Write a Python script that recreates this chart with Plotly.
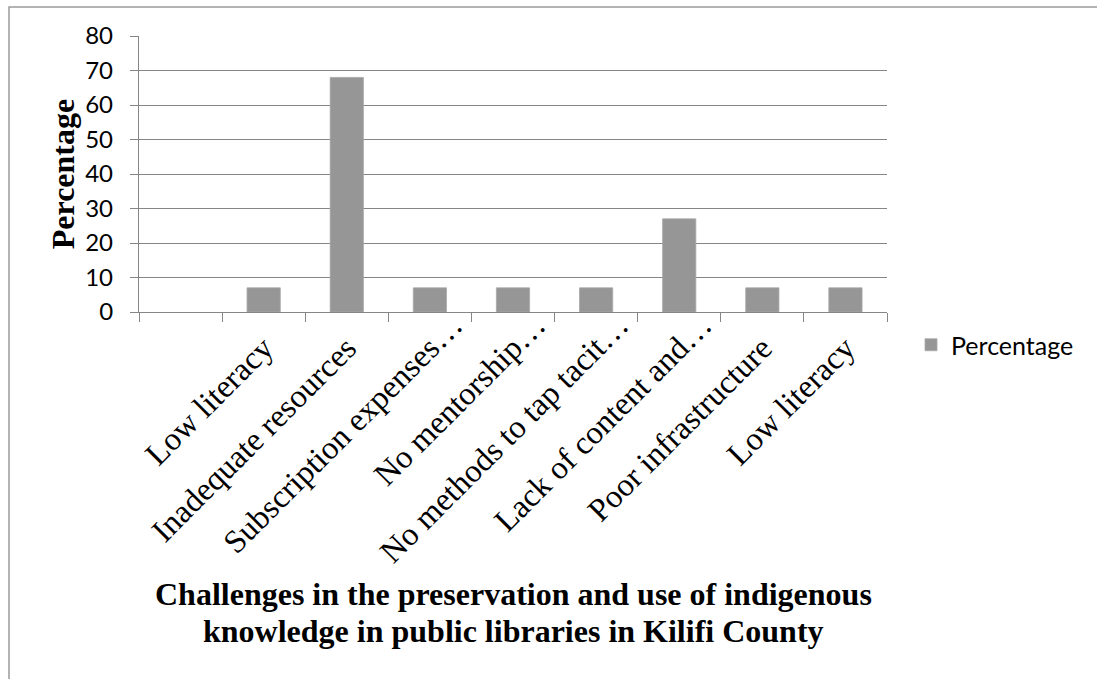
import plotly.graph_objects as go

# Challenge categories (first slot is an unlabeled empty category)
categories = [
    "",
    "Low literacy",
    "Inadequate resources",
    "Subscription expenses…",
    "No mentorship…",
    "No methods to tap tacit…",
    "Lack of content and…",
    "Poor infrastructure",
    "Low literacy",
]
percentage = [None, 7, 68, 7, 7, 7, 27, 7, 7]
y_ticks = [0, 10, 20, 30, 40, 50, 60, 70, 80]
x_title_lines = [
    "Challenges in the preservation and use of indigenous",
    "knowledge in public libraries in Kilifi County",
]

W, H = 1097, 679
M_L, M_R, M_T, M_B = 139, 210, 36, 367
plot_w = W - M_L - M_R
plot_h = H - M_T - M_B
LABEL_SIZE = 32.5


def px_to_paper_x(px):
    return (px - M_L) / plot_w


def px_to_paper_y(py):
    return (H - M_B - py) / plot_h


positions = list(range(len(categories)))
boundaries = [p - 0.5 for p in positions] + [positions[-1] + 0.5]
x_range = [boundaries[0], boundaries[-1]]

# Truncated labels hang their ellipsis past the tick; full labels get an
# em of trailing non-breaking space so both kinds line up the same way.
tick_text = [c if c.endswith("…") or not c else c + "\u00a0" * 4 for c in categories]
em_diag = round(LABEL_SIZE * 0.7071)

AXIS_GRAY = "#868686"
BAR_GRAY = "#969696"
SERIF = "Liberation Serif, Times New Roman, serif"
SANS = "Lato, Carlito, Calibri, sans-serif"

fig = go.Figure()
fig.add_trace(go.Bar(
    x=positions,
    y=percentage,
    name="Percentage",
    marker=dict(color=BAR_GRAY, line=dict(color="#a8a8a8", width=0.8)),
    width=0.4,
))
# Empty trace that attaches the boundary-tick axis so it gets drawn
fig.add_trace(go.Scatter(
    x=[], y=[], xaxis="x2", yaxis="y",
    showlegend=False, hoverinfo="skip",
))

fig.update_layout(
    width=W,
    height=H,
    margin=dict(l=M_L, r=M_R, t=M_T, b=M_B, pad=0),
    paper_bgcolor="white",
    plot_bgcolor="white",
    showlegend=True,
    legend=dict(
        x=px_to_paper_x(911),
        y=px_to_paper_y(345),
        xanchor="left",
        yanchor="middle",
        font=dict(family=SANS, size=25, color="black"),
        bgcolor="rgba(0,0,0,0)",
    ),
    xaxis=dict(
        range=x_range,
        tickmode="array",
        tickvals=positions,
        ticktext=tick_text,
        tickangle=-45,
        ticks="",
        ticklabelshift=em_diag,
        ticklabelstandoff=3 - em_diag,
        showgrid=False,
        showline=True,
        linecolor=AXIS_GRAY,
        linewidth=1.3,
        zeroline=False,
        tickfont=dict(family=SERIF, size=LABEL_SIZE, color="black"),
    ),
    # Companion axis that carries the tick marks on category boundaries
    xaxis2=dict(
        overlaying="x",
        anchor="y",
        range=x_range,
        tickmode="array",
        tickvals=boundaries,
        ticks="outside",
        ticklen=9,
        tickwidth=1.3,
        tickcolor=AXIS_GRAY,
        showticklabels=False,
        showgrid=False,
        showline=False,
        zeroline=False,
        side="bottom",
    ),
    yaxis=dict(
        range=[0, 80],
        tickmode="array",
        tickvals=y_ticks,
        ticks="outside",
        ticklen=8,
        tickwidth=1.3,
        tickcolor=AXIS_GRAY,
        ticklabelstandoff=12,
        showgrid=True,
        gridcolor=AXIS_GRAY,
        gridwidth=1.3,
        showline=True,
        linecolor=AXIS_GRAY,
        linewidth=1.3,
        zeroline=False,
        tickfont=dict(family=SANS, size=24, color="black"),
        title=dict(
            text="<b>Percentage</b>",
            font=dict(family=SERIF, size=32, color="black"),
            standoff=1,
        ),
    ),
    bargap=0.6,
)

# Two-line category axis title, set with tighter leading than the default
for line_text, centre_py in zip(x_title_lines, [594, 631]):
    fig.add_annotation(
        text=f"<b>{line_text}</b>",
        xref="paper", yref="paper",
        x=0.5, y=px_to_paper_y(centre_py),
        xanchor="center", yanchor="middle",
        showarrow=False,
        font=dict(family=SERIF, size=32, color="black"),
    )

# Chart frame (top and left edges visible, the rest runs off the page)
fig.add_shape(
    type="rect",
    xref="paper", yref="paper",
    x0=px_to_paper_x(9), x1=px_to_paper_x(W + 20),
    y0=px_to_paper_y(H + 20), y1=px_to_paper_y(7),
    line=dict(color="#9a9a9a", width=1.5),
    fillcolor="rgba(0,0,0,0)",
    layer="below",
)

fig.write_html("out.html")
